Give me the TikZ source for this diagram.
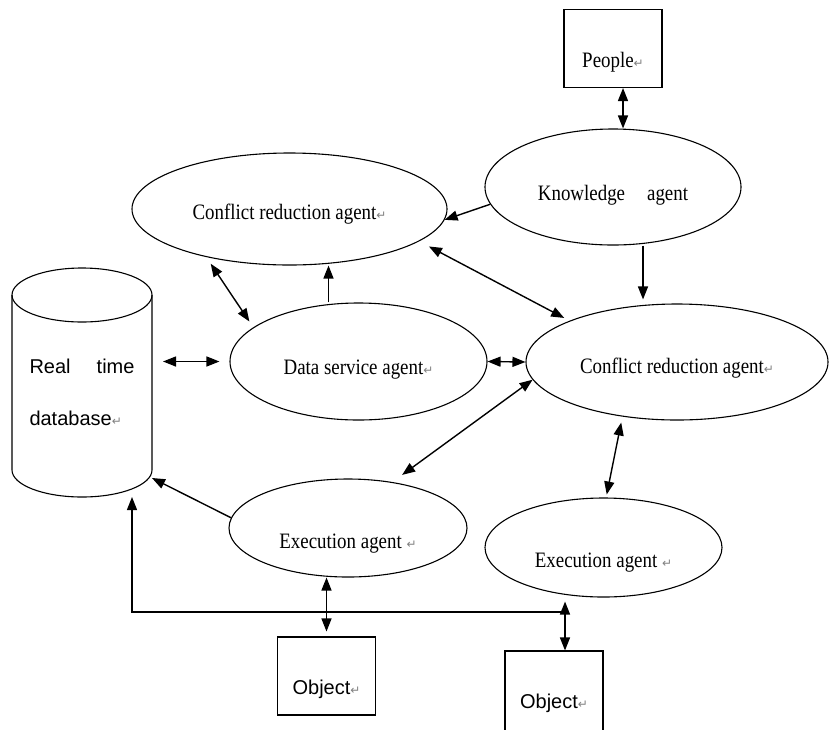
\documentclass[tikz,border=0pt]{standalone}
\usepackage{fontspec}
\usetikzlibrary{arrows.meta,shapes.geometric}
\newfontfamily\agentfont{Liberation Serif}[FakeStretch=0.86]
\newfontfamily\boxfont{Liberation Sans}
\newfontfamily\symfont{DejaVu Sans}
\newcommand{\pmark}{{\symfont\fontsize{12}{12}\selectfont\color{gray}↵}}

\begin{document}
\begin{tikzpicture}[x=1pt,y=-1pt]
    \tikzset{agent/.style = {shape=ellipse, draw, line width=1.1pt, inner sep=0pt, text depth=0pt, font=\agentfont\fontsize{22}{24}\selectfont}}
    \tikzset{thing/.style = {shape=rectangle, draw, line width=1.1pt, minimum width=98pt, minimum height=78pt, inner sep=0pt, text depth=0pt, font=\boxfont\fontsize{20}{22}\selectfont}}
    \tikzset{edge/.style = {draw, line width=1.4pt, >={Triangle[length=13pt,width=10pt]}}}
    \useasboundingbox (0,0) rectangle (829,729);

    % vertices
    \node[thing, text height=37pt, font=\agentfont\fontsize{22}{24}\selectfont] (people) at (613,48.5) {People\pmark};
    \node[agent, minimum width=256pt, minimum height=116pt, text height=26pt] (know) at (613,187) {Knowledge\hspace{22pt}agent};
    \node[agent, minimum width=315pt, minimum height=112pt, text height=20pt] (cr1) at (289.5,209) {Conflict reduction agent\pmark};
    \node[agent, minimum width=302pt, minimum height=116pt, text height=22pt] (cr2) at (677,362) {Conflict reduction agent\pmark};
    \node[agent, minimum width=257pt, minimum height=117pt, text height=25pt] (ds) at (358.5,361.5) {Data service agent\pmark};
    \node[agent, minimum width=238pt, minimum height=98pt, text height=40pt] (ex1) at (348,528) {Execution agent \pmark};
    \node[agent, minimum width=237pt, minimum height=99pt, text height=39pt] (ex2) at (603.5,547.5) {Execution agent \pmark};
    \node[thing, text height=36pt] (obj1) at (326.5,676) {Object\pmark};
    \node[thing, minimum height=84pt, text height=30pt] (obj2) at (554,693) {Object\pmark};
    \node[minimum width=140pt, minimum height=229pt, inner sep=0pt, outer sep=0pt, text height=0pt, text depth=19pt, font=\boxfont\fontsize{20}{22}\selectfont] (db) at (82,382.5) {\parbox[t]{105pt}{\baselineskip=52pt Real\hfill time\\database\pmark}};
    \draw[line width=1.1pt] ([yshift=-27pt]db.north west) -- ([yshift=27pt]db.south west) arc[start angle=180, end angle=360, x radius=70pt, y radius=27pt] -- ([yshift=-27pt]db.north east);
    \draw[line width=1.1pt] ([yshift=-27pt]db.north) ellipse [x radius=70pt, y radius=27pt];
    \coordinate (j) at (565,612);

    % edges
    \draw[edge, <->] ([xshift=10pt]people.south) -- ([xshift=10pt]people.south |- know.north);
    \draw[edge, ->] (know.188) -- (cr1.-4);
    \draw[edge, <->, shorten <=11pt, shorten >=6pt] (cr1.-14) -- (cr2.159);
    \draw[edge, ->, shorten >=4pt] ([xshift=30pt]know.south) -- ([xshift=30pt]know.south |- cr2.north);
    \draw[edge, ->] ([xshift=-30pt]ds.north) -- ([xshift=-30pt]ds.north |- cr1.south);
    \draw[edge, <->, shorten <=8pt, shorten >=7pt] (cr1.210) -- (ds.162);
    \draw[edge, <->, shorten <=11pt, shorten >=10pt] (db.east |- ds.west) -- (ds.west);
    \draw[edge, <->] (ds.east) -- (cr2.west);
    \draw[edge, <->, shorten >=12pt] (cr2.187) -- (ex1.46);
    \draw[edge, <->, shorten <=6pt, shorten >=3pt] (cr2.225) -- (ex2.87);
    \draw[edge, ->] (ex1.175) -- ([yshift=19pt]db.south east);
    \draw[edge, <->, shorten >=5pt] (obj1.north |- ex1.south) -- (obj1.north);
    \draw[edge, <->, shorten <=4pt] ([xshift=11pt]obj2.north |- ex2.south) -- ([xshift=11pt]obj2.north);
    \draw[edge, ->] (j) -| ([xshift=50pt]db.south);
\end{tikzpicture}
\end{document}
